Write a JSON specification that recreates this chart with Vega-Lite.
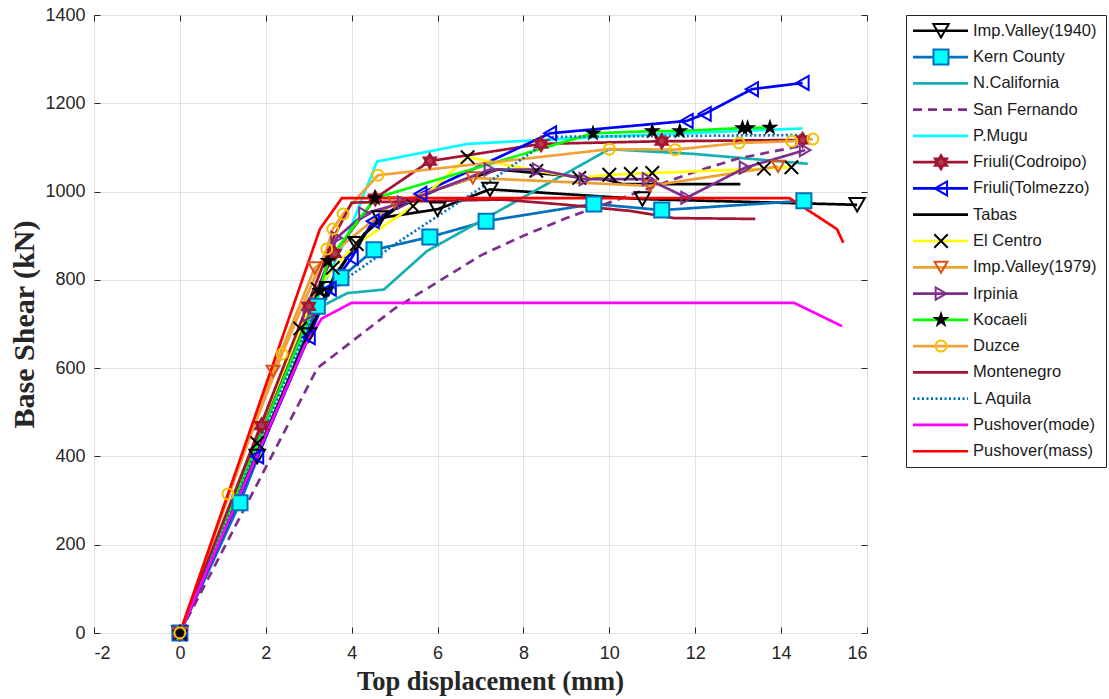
{
  "$schema": "https://vega.github.io/schema/vega-lite/v6.json",
  "padding": {"left": 9, "top": 5, "right": 4, "bottom": 2},
  "background": "white",
  "spacing": 35,
  "config": {
    "view": {"stroke": "#262626", "strokeWidth": 1},
    "font": "Liberation Sans"
  },
  "datasets": {
    "curves": [
      {"s": "Imp.Valley(1940)", "x": 0, "y": 0},
      {"s": "Imp.Valley(1940)", "x": 1.8, "y": 400},
      {"s": "Imp.Valley(1940)", "x": 3.0, "y": 675},
      {"s": "Imp.Valley(1940)", "x": 3.45, "y": 780},
      {"s": "Imp.Valley(1940)", "x": 4.1, "y": 882},
      {"s": "Imp.Valley(1940)", "x": 4.66, "y": 940},
      {"s": "Imp.Valley(1940)", "x": 6.0, "y": 960},
      {"s": "Imp.Valley(1940)", "x": 7.22, "y": 1005},
      {"s": "Imp.Valley(1940)", "x": 10.77, "y": 983},
      {"s": "Imp.Valley(1940)", "x": 15.77, "y": 970},

      {"s": "Kern County", "x": 0, "y": 0},
      {"s": "Kern County", "x": 1.4, "y": 295},
      {"s": "Kern County", "x": 3.2, "y": 740},
      {"s": "Kern County", "x": 3.75, "y": 805},
      {"s": "Kern County", "x": 4.52, "y": 868},
      {"s": "Kern County", "x": 5.82, "y": 897},
      {"s": "Kern County", "x": 7.13, "y": 933},
      {"s": "Kern County", "x": 9.64, "y": 972},
      {"s": "Kern County", "x": 11.22, "y": 958},
      {"s": "Kern County", "x": 14.53, "y": 979},

      {"s": "N.California", "x": 0, "y": 0},
      {"s": "N.California", "x": 3.3, "y": 740},
      {"s": "N.California", "x": 3.9, "y": 770},
      {"s": "N.California", "x": 4.75, "y": 778},
      {"s": "N.California", "x": 5.75, "y": 865},
      {"s": "N.California", "x": 10.0, "y": 1096},
      {"s": "N.California", "x": 12.0, "y": 1085},
      {"s": "N.California", "x": 14.62, "y": 1063},

      {"s": "San Fernando", "x": 0, "y": 0},
      {"s": "San Fernando", "x": 3.2, "y": 600},
      {"s": "San Fernando", "x": 4.0, "y": 660},
      {"s": "San Fernando", "x": 5.0, "y": 735},
      {"s": "San Fernando", "x": 6.0, "y": 795},
      {"s": "San Fernando", "x": 7.0, "y": 855},
      {"s": "San Fernando", "x": 8.0, "y": 900},
      {"s": "San Fernando", "x": 9.0, "y": 940},
      {"s": "San Fernando", "x": 10.0, "y": 975},
      {"s": "San Fernando", "x": 11.0, "y": 1010},
      {"s": "San Fernando", "x": 12.0, "y": 1045},
      {"s": "San Fernando", "x": 13.0, "y": 1075},
      {"s": "San Fernando", "x": 14.44, "y": 1103},

      {"s": "P.Mugu", "x": 0, "y": 0},
      {"s": "P.Mugu", "x": 3.3, "y": 780},
      {"s": "P.Mugu", "x": 3.9, "y": 900},
      {"s": "P.Mugu", "x": 4.59, "y": 1068},
      {"s": "P.Mugu", "x": 6.7, "y": 1108},
      {"s": "P.Mugu", "x": 10.0, "y": 1125},
      {"s": "P.Mugu", "x": 14.5, "y": 1143},

      {"s": "Friuli(Codroipo)", "x": 0, "y": 0},
      {"s": "Friuli(Codroipo)", "x": 1.9, "y": 470},
      {"s": "Friuli(Codroipo)", "x": 3.0, "y": 740},
      {"s": "Friuli(Codroipo)", "x": 3.6, "y": 860},
      {"s": "Friuli(Codroipo)", "x": 4.55, "y": 985},
      {"s": "Friuli(Codroipo)", "x": 5.82, "y": 1069},
      {"s": "Friuli(Codroipo)", "x": 8.41, "y": 1108},
      {"s": "Friuli(Codroipo)", "x": 11.22, "y": 1114},
      {"s": "Friuli(Codroipo)", "x": 14.5, "y": 1117},

      {"s": "Friuli(Tolmezzo)", "x": 0, "y": 0},
      {"s": "Friuli(Tolmezzo)", "x": 1.8, "y": 400},
      {"s": "Friuli(Tolmezzo)", "x": 3.0, "y": 670},
      {"s": "Friuli(Tolmezzo)", "x": 3.49, "y": 780},
      {"s": "Friuli(Tolmezzo)", "x": 4.0, "y": 850},
      {"s": "Friuli(Tolmezzo)", "x": 4.49, "y": 933},
      {"s": "Friuli(Tolmezzo)", "x": 5.6, "y": 995},
      {"s": "Friuli(Tolmezzo)", "x": 8.62, "y": 1132},
      {"s": "Friuli(Tolmezzo)", "x": 11.8, "y": 1160},
      {"s": "Friuli(Tolmezzo)", "x": 12.22, "y": 1176},
      {"s": "Friuli(Tolmezzo)", "x": 13.32, "y": 1232},
      {"s": "Friuli(Tolmezzo)", "x": 14.5, "y": 1246},

      {"s": "Tabas", "x": 0, "y": 0},
      {"s": "Tabas", "x": 3.0, "y": 680},
      {"s": "Tabas", "x": 3.6, "y": 810},
      {"s": "Tabas", "x": 4.3, "y": 905},
      {"s": "Tabas", "x": 5.0, "y": 960},
      {"s": "Tabas", "x": 6.0, "y": 1005},
      {"s": "Tabas", "x": 7.4, "y": 1050},
      {"s": "Tabas", "x": 9.9, "y": 1028},
      {"s": "Tabas", "x": 10.3, "y": 1017},
      {"s": "Tabas", "x": 13.05, "y": 1017},

      {"s": "El Centro", "x": 0, "y": 0},
      {"s": "El Centro", "x": 1.8, "y": 430},
      {"s": "El Centro", "x": 2.8, "y": 690},
      {"s": "El Centro", "x": 3.21, "y": 779},
      {"s": "El Centro", "x": 3.56, "y": 827},
      {"s": "El Centro", "x": 4.12, "y": 881},
      {"s": "El Centro", "x": 5.43, "y": 967},
      {"s": "El Centro", "x": 6.7, "y": 1078},
      {"s": "El Centro", "x": 8.3, "y": 1047},
      {"s": "El Centro", "x": 9.3, "y": 1031},
      {"s": "El Centro", "x": 10.0, "y": 1038},
      {"s": "El Centro", "x": 10.5, "y": 1040},
      {"s": "El Centro", "x": 11.0, "y": 1042},
      {"s": "El Centro", "x": 13.6, "y": 1052},
      {"s": "El Centro", "x": 14.24, "y": 1055},

      {"s": "Imp.Valley(1979)", "x": 0, "y": 0},
      {"s": "Imp.Valley(1979)", "x": 2.17, "y": 593},
      {"s": "Imp.Valley(1979)", "x": 3.14, "y": 827},
      {"s": "Imp.Valley(1979)", "x": 5.0, "y": 975},
      {"s": "Imp.Valley(1979)", "x": 6.82, "y": 1031},
      {"s": "Imp.Valley(1979)", "x": 10.95, "y": 1013},
      {"s": "Imp.Valley(1979)", "x": 13.93, "y": 1057},

      {"s": "Irpinia", "x": 0, "y": 0},
      {"s": "Irpinia", "x": 3.0, "y": 720},
      {"s": "Irpinia", "x": 3.65, "y": 895},
      {"s": "Irpinia", "x": 4.3, "y": 950},
      {"s": "Irpinia", "x": 5.2, "y": 975},
      {"s": "Irpinia", "x": 7.22, "y": 1050},
      {"s": "Irpinia", "x": 8.34, "y": 1050},
      {"s": "Irpinia", "x": 9.43, "y": 1028},
      {"s": "Irpinia", "x": 10.9, "y": 1028},
      {"s": "Irpinia", "x": 11.8, "y": 986},
      {"s": "Irpinia", "x": 13.16, "y": 1054},
      {"s": "Irpinia", "x": 14.56, "y": 1094},

      {"s": "Kocaeli", "x": 0, "y": 0},
      {"s": "Kocaeli", "x": 3.26, "y": 775},
      {"s": "Kocaeli", "x": 3.45, "y": 843},
      {"s": "Kocaeli", "x": 4.54, "y": 985},
      {"s": "Kocaeli", "x": 9.62, "y": 1132},
      {"s": "Kocaeli", "x": 11.0, "y": 1137},
      {"s": "Kocaeli", "x": 11.64, "y": 1137},
      {"s": "Kocaeli", "x": 13.1, "y": 1144},
      {"s": "Kocaeli", "x": 13.22, "y": 1144},
      {"s": "Kocaeli", "x": 13.74, "y": 1145},

      {"s": "Duzce", "x": 0, "y": 0},
      {"s": "Duzce", "x": 1.12, "y": 315},
      {"s": "Duzce", "x": 2.38, "y": 632},
      {"s": "Duzce", "x": 3.42, "y": 870},
      {"s": "Duzce", "x": 3.56, "y": 915},
      {"s": "Duzce", "x": 3.8, "y": 949},
      {"s": "Duzce", "x": 4.61, "y": 1037},
      {"s": "Duzce", "x": 10.0, "y": 1096},
      {"s": "Duzce", "x": 11.53, "y": 1095},
      {"s": "Duzce", "x": 13.02, "y": 1110},
      {"s": "Duzce", "x": 14.25, "y": 1114},
      {"s": "Duzce", "x": 14.74, "y": 1119},

      {"s": "Montenegro", "x": 0, "y": 0},
      {"s": "Montenegro", "x": 3.0, "y": 750},
      {"s": "Montenegro", "x": 3.6, "y": 900},
      {"s": "Montenegro", "x": 4.0, "y": 975},
      {"s": "Montenegro", "x": 7.5, "y": 982},
      {"s": "Montenegro", "x": 9.0, "y": 970},
      {"s": "Montenegro", "x": 10.5, "y": 956},
      {"s": "Montenegro", "x": 11.5, "y": 940},
      {"s": "Montenegro", "x": 13.4, "y": 938},

      {"s": "L Aquila", "x": 0, "y": 0},
      {"s": "L Aquila", "x": 3.0, "y": 700},
      {"s": "L Aquila", "x": 3.5, "y": 770},
      {"s": "L Aquila", "x": 3.9, "y": 805},
      {"s": "L Aquila", "x": 5.12, "y": 888},
      {"s": "L Aquila", "x": 7.0, "y": 1008},
      {"s": "L Aquila", "x": 8.7, "y": 1124},
      {"s": "L Aquila", "x": 14.55, "y": 1128},

      {"s": "Pushover(mode)", "x": 0, "y": 0},
      {"s": "Pushover(mode)", "x": 2.9, "y": 650},
      {"s": "Pushover(mode)", "x": 3.3, "y": 712},
      {"s": "Pushover(mode)", "x": 4.0, "y": 748},
      {"s": "Pushover(mode)", "x": 14.3, "y": 748},
      {"s": "Pushover(mode)", "x": 15.42, "y": 695},

      {"s": "Pushover(mass)", "x": 0, "y": 0},
      {"s": "Pushover(mass)", "x": 3.26, "y": 915},
      {"s": "Pushover(mass)", "x": 3.77, "y": 985},
      {"s": "Pushover(mass)", "x": 14.2, "y": 985},
      {"s": "Pushover(mass)", "x": 15.3, "y": 915},
      {"s": "Pushover(mass)", "x": 15.45, "y": 884}
    ],
    "names": [
      {"s": "Imp.Valley(1940)"}, {"s": "Kern County"}, {"s": "N.California"},
      {"s": "San Fernando"}, {"s": "P.Mugu"}, {"s": "Friuli(Codroipo)"},
      {"s": "Friuli(Tolmezzo)"}, {"s": "Tabas"}, {"s": "El Centro"},
      {"s": "Imp.Valley(1979)"}, {"s": "Irpinia"}, {"s": "Kocaeli"},
      {"s": "Duzce"}, {"s": "Montenegro"}, {"s": "L Aquila"},
      {"s": "Pushover(mode)"}, {"s": "Pushover(mass)"}
    ]
  },
  "hconcat": [
    {
      "width": 773,
      "height": 618,
      "data": {"name": "curves"},
      "resolve": {"axis": {"x": "independent", "y": "independent"}},
      "layer": [
        {
          "mark": {"type": "line", "strokeWidth": 2.7, "clip": false},
          "encoding": {
            "x": {
              "field": "x", "type": "quantitative",
              "scale": {"domain": [-2, 16], "nice": false, "zero": false},
              "axis": {
                "orient": "bottom", "title": "Top displacement (mm)",
                "values": [-2, 0, 2, 4, 6, 8, 10, 12, 14, 16],
                "labelExpr": "'' + datum.value",
                "grid": true, "gridColor": "#e2e2e2", "gridWidth": 1,
                "domain": false, "tickSize": -6, "tickColor": "#262626",
                "labelPadding": 17, "labelFontSize": 18, "labelColor": "#262626",
                "labelFont": "Liberation Sans",
                "titleFont": "Liberation Serif", "titleFontSize": 26.5, "titleFontWeight": "bold",
                "titleColor": "#262626", "titlePadding": 6, "titleX": 396, "titleAlign": "center"
              }
            },
            "y": {
              "field": "y", "type": "quantitative",
              "scale": {"domain": [0, 1400], "nice": false},
              "axis": {
                "orient": "left", "title": "Base Shear (kN)",
                "values": [0, 200, 400, 600, 800, 1000, 1200, 1400],
                "labelExpr": "'' + datum.value",
                "grid": true, "gridColor": "#e2e2e2", "gridWidth": 1,
                "domain": false, "tickSize": -6, "tickColor": "#262626",
                "labelPadding": 15, "labelFontSize": 18, "labelColor": "#262626",
                "labelFont": "Liberation Sans",
                "titleFont": "Liberation Serif", "titleFontSize": 30, "titleFontWeight": "bold",
                "titleColor": "#262626", "titlePadding": 5
              }
            },
            "color": {
              "field": "s", "type": "nominal", "legend": null,
              "scale": {
                "domain": ["Imp.Valley(1940)", "Kern County", "N.California", "San Fernando", "P.Mugu", "Friuli(Codroipo)", "Friuli(Tolmezzo)", "Tabas", "El Centro", "Imp.Valley(1979)", "Irpinia", "Kocaeli", "Duzce", "Montenegro", "L Aquila", "Pushover(mode)", "Pushover(mass)"],
                "range": ["#000000", "#0072BD", "#17B0B0", "#7E2F8E", "#00FFFF", "#A2142F", "#0000FF", "#000000", "#FFFF00", "#EDA032", "#7E2F8E", "#00FF00", "#F0A23A", "#A2142F", "#0072BD", "#FF00FF", "#FF0000"]
              }
            },
            "strokeDash": {
              "field": "s", "type": "nominal", "legend": null,
              "scale": {
                "domain": ["Imp.Valley(1940)", "Kern County", "N.California", "San Fernando", "P.Mugu", "Friuli(Codroipo)", "Friuli(Tolmezzo)", "Tabas", "El Centro", "Imp.Valley(1979)", "Irpinia", "Kocaeli", "Duzce", "Montenegro", "L Aquila", "Pushover(mode)", "Pushover(mass)"],
                "range": [[1, 0], [1, 0], [1, 0], [9, 6], [1, 0], [1, 0], [1, 0], [1, 0], [1, 0], [1, 0], [1, 0], [1, 0], [1, 0], [1, 0], [2, 2.5], [1, 0], [1, 0]]
              }
            }
          }
        },
        {
          "transform": [{"filter": {"field": "s", "oneOf": ["Imp.Valley(1940)", "Kern County", "Friuli(Codroipo)", "Friuli(Tolmezzo)", "El Centro", "Imp.Valley(1979)", "Irpinia", "Kocaeli", "Duzce"]}}],
          "mark": {"type": "point", "strokeWidth": 2, "opacity": 1, "clip": false},
          "encoding": {
            "x": {
              "field": "x", "type": "quantitative",
              "axis": {"orient": "top", "title": null, "labels": false, "grid": false, "domain": false,
                       "values": [-2, 0, 2, 4, 6, 8, 10, 12, 14, 16], "tickSize": -6, "tickColor": "#262626"}
            },
            "y": {
              "field": "y", "type": "quantitative",
              "axis": {"orient": "right", "title": null, "labels": false, "grid": false, "domain": false,
                       "values": [0, 200, 400, 600, 800, 1000, 1200, 1400], "tickSize": -6, "tickColor": "#262626"}
            },
            "shape": {
              "field": "s", "type": "nominal", "legend": null,
              "scale": {
                "domain": ["Imp.Valley(1940)", "Kern County", "Friuli(Codroipo)", "Friuli(Tolmezzo)", "El Centro", "Imp.Valley(1979)", "Irpinia", "Kocaeli", "Duzce"],
                "range": ["triangle-down", "square", "M0,-1L0.866,0.5L-0.866,0.5ZM0,1L-0.866,-0.5L0.866,-0.5Z", "triangle-left", "M-1,-1L1,1M-1,1L1,-1", "triangle-down", "triangle-right", "M0,-1L0.2245,-0.309L0.951,-0.309L0.363,0.118L0.588,0.809L0,0.382L-0.588,0.809L-0.363,0.118L-0.951,-0.309L-0.2245,-0.309Z", "circle"]
              }
            },
            "stroke": {
              "field": "s", "type": "nominal", "legend": null,
              "scale": {
                "domain": ["Imp.Valley(1940)", "Kern County", "Friuli(Codroipo)", "Friuli(Tolmezzo)", "El Centro", "Imp.Valley(1979)", "Irpinia", "Kocaeli", "Duzce"],
                "range": ["#000000", "#0072BD", "#A2142F", "#0000FF", "#000000", "#D95319", "#7E2F8E", "#000000", "#F5C000"]
              }
            },
            "fill": {
              "field": "s", "type": "nominal", "legend": null,
              "scale": {
                "domain": ["Imp.Valley(1940)", "Kern County", "Friuli(Codroipo)", "Friuli(Tolmezzo)", "El Centro", "Imp.Valley(1979)", "Irpinia", "Kocaeli", "Duzce"],
                "range": ["transparent", "#00FFFF", "#B23A50", "transparent", "transparent", "transparent", "transparent", "#000000", "transparent"]
              }
            },
            "size": {
              "field": "s", "type": "nominal", "legend": null,
              "scale": {
                "domain": ["Imp.Valley(1940)", "Kern County", "Friuli(Codroipo)", "Friuli(Tolmezzo)", "El Centro", "Imp.Valley(1979)", "Irpinia", "Kocaeli", "Duzce"],
                "range": [240, 121, 210, 240, 64, 220, 240, 400, 210]
              }
            }
          }
        }
      ]
    },
    {
      "width": 200,
      "height": 452,
      "data": {"name": "names"},
      "layer": [
        {
          "mark": {"type": "rule", "strokeWidth": 2.7},
          "encoding": {
            "x": {"datum": 0.035, "type": "quantitative", "scale": {"domain": [0, 1], "nice": false}, "axis": null},
            "x2": {"datum": 0.31},
            "y": {"field": "s", "type": "nominal", "sort": null, "scale": {"type": "point", "padding": 0.6}, "axis": null},
            "color": {"field": "s", "type": "nominal", "legend": null,
              "scale": {
                "domain": ["Imp.Valley(1940)", "Kern County", "N.California", "San Fernando", "P.Mugu", "Friuli(Codroipo)", "Friuli(Tolmezzo)", "Tabas", "El Centro", "Imp.Valley(1979)", "Irpinia", "Kocaeli", "Duzce", "Montenegro", "L Aquila", "Pushover(mode)", "Pushover(mass)"],
                "range": ["#000000", "#0072BD", "#17B0B0", "#7E2F8E", "#00FFFF", "#A2142F", "#0000FF", "#000000", "#FFFF00", "#EDA032", "#7E2F8E", "#00FF00", "#F0A23A", "#A2142F", "#0072BD", "#FF00FF", "#FF0000"]
              }
            },
            "strokeDash": {"field": "s", "type": "nominal", "legend": null,
              "scale": {
                "domain": ["Imp.Valley(1940)", "Kern County", "N.California", "San Fernando", "P.Mugu", "Friuli(Codroipo)", "Friuli(Tolmezzo)", "Tabas", "El Centro", "Imp.Valley(1979)", "Irpinia", "Kocaeli", "Duzce", "Montenegro", "L Aquila", "Pushover(mode)", "Pushover(mass)"],
                "range": [[1, 0], [1, 0], [1, 0], [9, 6], [1, 0], [1, 0], [1, 0], [1, 0], [1, 0], [1, 0], [1, 0], [1, 0], [1, 0], [1, 0], [2, 2.5], [1, 0], [1, 0]]
              }
            }
          }
        },
        {
          "transform": [{"filter": {"field": "s", "oneOf": ["Imp.Valley(1940)", "Kern County", "Friuli(Codroipo)", "Friuli(Tolmezzo)", "El Centro", "Imp.Valley(1979)", "Irpinia", "Kocaeli", "Duzce"]}}],
          "mark": {"type": "point", "strokeWidth": 2, "opacity": 1},
          "encoding": {
            "x": {"datum": 0.175, "type": "quantitative"},
            "y": {"field": "s", "type": "nominal", "sort": null},
            "shape": {
              "field": "s", "type": "nominal", "legend": null,
              "scale": {
                "domain": ["Imp.Valley(1940)", "Kern County", "Friuli(Codroipo)", "Friuli(Tolmezzo)", "El Centro", "Imp.Valley(1979)", "Irpinia", "Kocaeli", "Duzce"],
                "range": ["triangle-down", "square", "M0,-1L0.866,0.5L-0.866,0.5ZM0,1L-0.866,-0.5L0.866,-0.5Z", "triangle-left", "M-1,-1L1,1M-1,1L1,-1", "triangle-down", "triangle-right", "M0,-1L0.2245,-0.309L0.951,-0.309L0.363,0.118L0.588,0.809L0,0.382L-0.588,0.809L-0.363,0.118L-0.951,-0.309L-0.2245,-0.309Z", "circle"]
              }
            },
            "stroke": {
              "field": "s", "type": "nominal", "legend": null,
              "scale": {
                "domain": ["Imp.Valley(1940)", "Kern County", "Friuli(Codroipo)", "Friuli(Tolmezzo)", "El Centro", "Imp.Valley(1979)", "Irpinia", "Kocaeli", "Duzce"],
                "range": ["#000000", "#0072BD", "#A2142F", "#0000FF", "#000000", "#D95319", "#7E2F8E", "#000000", "#F5C000"]
              }
            },
            "fill": {
              "field": "s", "type": "nominal", "legend": null,
              "scale": {
                "domain": ["Imp.Valley(1940)", "Kern County", "Friuli(Codroipo)", "Friuli(Tolmezzo)", "El Centro", "Imp.Valley(1979)", "Irpinia", "Kocaeli", "Duzce"],
                "range": ["transparent", "#00FFFF", "#B23A50", "transparent", "transparent", "transparent", "transparent", "#000000", "transparent"]
              }
            },
            "size": {
              "field": "s", "type": "nominal", "legend": null,
              "scale": {
                "domain": ["Imp.Valley(1940)", "Kern County", "Friuli(Codroipo)", "Friuli(Tolmezzo)", "El Centro", "Imp.Valley(1979)", "Irpinia", "Kocaeli", "Duzce"],
                "range": [240, 121, 210, 240, 64, 220, 240, 400, 210]
              }
            }
          }
        },
        {
          "mark": {"type": "text", "align": "left", "baseline": "middle", "fontSize": 16.5, "font": "Liberation Sans", "color": "#1a1a1a"},
          "encoding": {
            "x": {"datum": 0.335, "type": "quantitative"},
            "y": {"field": "s", "type": "nominal", "sort": null},
            "text": {"field": "s"}
          }
        }
      ]
    }
  ]
}
